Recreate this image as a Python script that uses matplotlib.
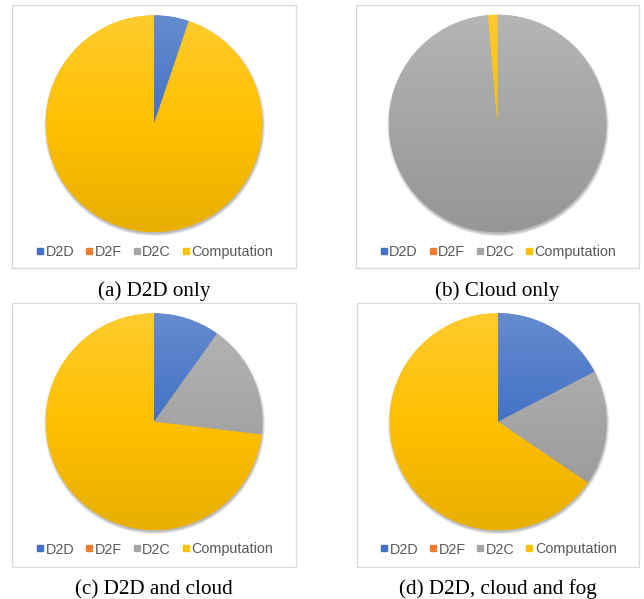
import numpy as np
import matplotlib
matplotlib.use("Agg")
import matplotlib.pyplot as plt
from matplotlib.patches import Rectangle, Circle
from matplotlib.lines import Line2D
from matplotlib.colors import to_rgb

# Share of delay per component for each offloading scheme (%)
categories = ["D2D", "D2F", "D2C", "Computation"]
d2d_only = [5.2, 0.0, 0.0, 94.8]
cloud_only = [0.0, 0.0, 98.6, 1.4]
d2d_cloud = [9.9, 0.0, 17.0, 73.1]
d2d_cloud_fog = [17.4, 0.0, 17.1, 65.5]
captions = ["(a) D2D only", "(b) Cloud only", "(c) D2D and cloud", "(d) D2D, cloud and fog"]

colors = ["#4472C4", "#ED7D31", "#A5A5A5", "#FFC000"]

W, H = 644, 599
fig = plt.figure(figsize=(W / 100, H / 100), dpi=100)

# panel layout in pixels: box (x0, y0, x1, y1), pie centre, radius, legend y, caption y
panels = [
    (d2d_only, (12, 5, 296, 268), (154, 123.7), 108.3, 252, 291),
    (cloud_only, (356, 5, 639, 268), (497.5, 123.5), 108.7, 252, 291),
    (d2d_cloud, (12, 303, 296, 566.5), (154, 421.7), 108.3, 549.5, 589.5),
    (d2d_cloud_fog, (356.5, 303, 639, 566.5), (498, 421.7), 108.5, 549.5, 589.5),
]


def mix(c, other, t):
    c = np.array(to_rgb(c))
    o = np.array(to_rgb(other))
    return (1 - t) * c + t * o


def gradient_image(col):
    n = 256
    t = np.linspace(0, 1, n)
    top = mix(col, "white", 0.18)
    mid = np.array(to_rgb(col))
    bot = mix(col, "black", 0.09)
    img = np.zeros((n, 1, 3))
    for i, tv in enumerate(t):
        if tv < 0.5:
            img[i, 0] = top + (mid - top) * (tv / 0.5)
        else:
            img[i, 0] = mid + (bot - mid) * ((tv - 0.5) / 0.5)
    return img


for idx, (vals, box, (cx, cy), r, ly, capy) in enumerate(panels):
    x0, y0, x1, y1 = box
    fig.patches.append(Rectangle((x0 / W, 1 - y1 / H), (x1 - x0) / W, (y1 - y0) / H,
                                 transform=fig.transFigure, fill=False,
                                 edgecolor="#D9D9D9", linewidth=0.9, zorder=0))

    m = 1.06
    ax = fig.add_axes([(cx - r * m) / W, 1 - (cy + r * m) / H, 2 * r * m / W, 2 * r * m / H])
    # soft drop shadow under the pie
    for k in range(6):
        ax.add_patch(Circle((0.006, -0.018), 0.995 + 0.005 * k, facecolor="black",
                            edgecolor="none", alpha=0.05, zorder=0))
    wedges, _ = ax.pie(vals, colors=colors, startangle=90, counterclock=False,
                       wedgeprops=dict(linewidth=0, zorder=1))
    for w, col in zip(wedges, colors):
        im = ax.imshow(gradient_image(col), extent=(-1, 1, -1, 1), origin="upper",
                       aspect="auto", interpolation="bilinear", zorder=2)
        im.set_clip_path(w)
    ax.set_xlim(-m, m)
    ax.set_ylim(-m, m)
    ax.set_aspect("equal")
    ax.axis("off")

    handles = [Line2D([], [], linestyle="none", marker="s", markersize=4.8,
                      markerfacecolor=c, markeredgecolor=c) for c in colors]
    fig.legend(handles, categories, loc="center", ncol=4,
               bbox_to_anchor=((x0 + x1) / 2 / W + 0.0015, 1 - ly / H),
               frameon=False, handlelength=0.45, handletextpad=0.15,
               columnspacing=0.8, borderpad=0,
               prop=dict(family="Liberation Sans", size=10.4),
               labelcolor="#595959")

    fig.text(cx / W, 1 - capy / H, captions[idx],
             ha="center", va="center", family="Liberation Serif", fontsize=15.2)

fig.savefig("out.png", dpi=100)
